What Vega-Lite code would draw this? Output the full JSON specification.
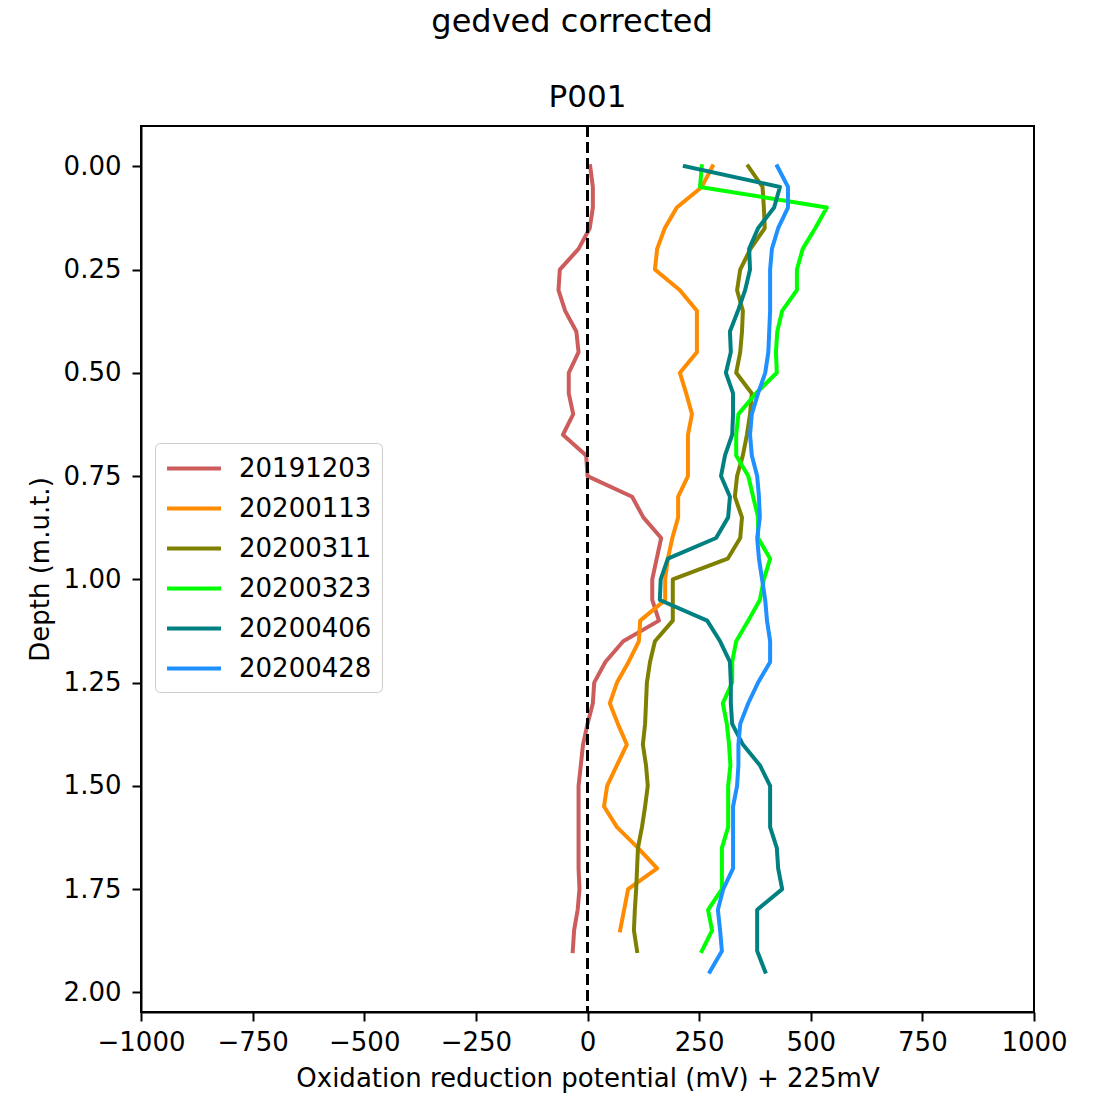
{
 "$schema": "https://vega.github.io/schema/vega-lite/v6.json",
 "background": "white",
 "padding": {"left": 26, "top": 5, "right": 10, "bottom": 10},
 "title": {"text": "gedved corrected", "fontSize": 32, "font": "DejaVu Sans", "fontWeight": "normal", "color": "black", "anchor": "middle", "offset": 42, "dx": 25},
 "config": {
  "font": "DejaVu Sans",
  "view": {"stroke": "black", "strokeWidth": 2},
  "axis": {"grid": false, "labelFontSize": 26, "titleFontSize": 26, "labelColor": "black", "titleColor": "black", "tickColor": "black", "tickSize": 9, "tickWidth": 2, "labelPadding": 8, "domainColor": "black", "domainWidth": 2, "titleFontWeight": "normal", "labelFont": "DejaVu Sans", "titleFont": "DejaVu Sans", "labelFlush": false, "labelOverlap": false},
  "legend": {"labelFontSize": 26, "labelFont": "DejaVu Sans", "labelColor": "black", "symbolType": "M-1,0H3", "symbolSize": 729, "symbolStrokeWidth": 4, "rowPadding": 11, "labelOffset": 43, "padding": 10, "strokeColor": "#cccccc", "fillColor": "white", "cornerRadius": 5}
 },
 "vconcat": [
  {
   "title": {"text": "P001", "fontSize": 31, "font": "DejaVu Sans", "fontWeight": "normal", "color": "black", "anchor": "middle", "frame": "group", "offset": 11},
   "width": 893,
   "height": 886,
   "layer": [
    {
     "data": {"values": [
{"date":"20191203","depth":0,"orp":6},{"date":"20191203","depth":0.05,"orp":12},{"date":"20191203","depth":0.1,"orp":12},{"date":"20191203","depth":0.15,"orp":5},{"date":"20191203","depth":0.2,"orp":-20},{"date":"20191203","depth":0.25,"orp":-62},{"date":"20191203","depth":0.3,"orp":-65},{"date":"20191203","depth":0.35,"orp":-50},{"date":"20191203","depth":0.4,"orp":-25},{"date":"20191203","depth":0.45,"orp":-20},{"date":"20191203","depth":0.5,"orp":-42},{"date":"20191203","depth":0.55,"orp":-42},{"date":"20191203","depth":0.6,"orp":-32},{"date":"20191203","depth":0.65,"orp":-55},{"date":"20191203","depth":0.7,"orp":-3},{"date":"20191203","depth":0.75,"orp":0},{"date":"20191203","depth":0.8,"orp":100},{"date":"20191203","depth":0.85,"orp":125},{"date":"20191203","depth":0.9,"orp":165},{"date":"20191203","depth":0.95,"orp":155},{"date":"20191203","depth":1.0,"orp":145},{"date":"20191203","depth":1.05,"orp":145},{"date":"20191203","depth":1.1,"orp":160},{"date":"20191203","depth":1.15,"orp":80},{"date":"20191203","depth":1.2,"orp":40},{"date":"20191203","depth":1.25,"orp":15},{"date":"20191203","depth":1.3,"orp":12},{"date":"20191203","depth":1.35,"orp":0},{"date":"20191203","depth":1.4,"orp":-10},{"date":"20191203","depth":1.45,"orp":-15},{"date":"20191203","depth":1.5,"orp":-20},{"date":"20191203","depth":1.55,"orp":-20},{"date":"20191203","depth":1.6,"orp":-20},{"date":"20191203","depth":1.65,"orp":-20},{"date":"20191203","depth":1.7,"orp":-20},{"date":"20191203","depth":1.75,"orp":-18},{"date":"20191203","depth":1.8,"orp":-22},{"date":"20191203","depth":1.85,"orp":-30},{"date":"20191203","depth":1.9,"orp":-33},
{"date":"20200113","depth":0,"orp":280},{"date":"20200113","depth":0.05,"orp":256},{"date":"20200113","depth":0.1,"orp":200},{"date":"20200113","depth":0.15,"orp":173},{"date":"20200113","depth":0.2,"orp":156},{"date":"20200113","depth":0.25,"orp":151},{"date":"20200113","depth":0.3,"orp":207},{"date":"20200113","depth":0.35,"orp":245},{"date":"20200113","depth":0.4,"orp":245},{"date":"20200113","depth":0.45,"orp":245},{"date":"20200113","depth":0.5,"orp":207},{"date":"20200113","depth":0.55,"orp":221},{"date":"20200113","depth":0.6,"orp":234},{"date":"20200113","depth":0.65,"orp":225},{"date":"20200113","depth":0.7,"orp":225},{"date":"20200113","depth":0.75,"orp":225},{"date":"20200113","depth":0.8,"orp":203},{"date":"20200113","depth":0.85,"orp":203},{"date":"20200113","depth":0.9,"orp":190},{"date":"20200113","depth":0.95,"orp":180},{"date":"20200113","depth":1.0,"orp":174},{"date":"20200113","depth":1.05,"orp":174},{"date":"20200113","depth":1.1,"orp":118},{"date":"20200113","depth":1.15,"orp":115},{"date":"20200113","depth":1.2,"orp":92},{"date":"20200113","depth":1.25,"orp":66},{"date":"20200113","depth":1.3,"orp":50},{"date":"20200113","depth":1.35,"orp":68},{"date":"20200113","depth":1.4,"orp":88},{"date":"20200113","depth":1.45,"orp":66},{"date":"20200113","depth":1.5,"orp":44},{"date":"20200113","depth":1.55,"orp":37},{"date":"20200113","depth":1.6,"orp":66},{"date":"20200113","depth":1.65,"orp":113},{"date":"20200113","depth":1.7,"orp":156},{"date":"20200113","depth":1.75,"orp":91},{"date":"20200113","depth":1.8,"orp":82},{"date":"20200113","depth":1.85,"orp":73},
{"date":"20200311","depth":0,"orp":360},{"date":"20200311","depth":0.05,"orp":392},{"date":"20200311","depth":0.1,"orp":395},{"date":"20200311","depth":0.15,"orp":397},{"date":"20200311","depth":0.2,"orp":365},{"date":"20200311","depth":0.25,"orp":342},{"date":"20200311","depth":0.3,"orp":335},{"date":"20200311","depth":0.35,"orp":348},{"date":"20200311","depth":0.4,"orp":346},{"date":"20200311","depth":0.45,"orp":342},{"date":"20200311","depth":0.5,"orp":333},{"date":"20200311","depth":0.55,"orp":368},{"date":"20200311","depth":0.6,"orp":364},{"date":"20200311","depth":0.65,"orp":357},{"date":"20200311","depth":0.7,"orp":348},{"date":"20200311","depth":0.75,"orp":335},{"date":"20200311","depth":0.8,"orp":330},{"date":"20200311","depth":0.85,"orp":346},{"date":"20200311","depth":0.9,"orp":342},{"date":"20200311","depth":0.95,"orp":314},{"date":"20200311","depth":1.0,"orp":191},{"date":"20200311","depth":1.05,"orp":191},{"date":"20200311","depth":1.1,"orp":191},{"date":"20200311","depth":1.15,"orp":151},{"date":"20200311","depth":1.2,"orp":140},{"date":"20200311","depth":1.25,"orp":133},{"date":"20200311","depth":1.3,"orp":131},{"date":"20200311","depth":1.35,"orp":129},{"date":"20200311","depth":1.4,"orp":124},{"date":"20200311","depth":1.45,"orp":131},{"date":"20200311","depth":1.5,"orp":135},{"date":"20200311","depth":1.55,"orp":129},{"date":"20200311","depth":1.6,"orp":122},{"date":"20200311","depth":1.65,"orp":113},{"date":"20200311","depth":1.7,"orp":111},{"date":"20200311","depth":1.75,"orp":109},{"date":"20200311","depth":1.8,"orp":106},{"date":"20200311","depth":1.85,"orp":104},{"date":"20200311","depth":1.9,"orp":111},
{"date":"20200323","depth":0,"orp":256},{"date":"20200323","depth":0.05,"orp":252},{"date":"20200323","depth":0.1,"orp":536},{"date":"20200323","depth":0.15,"orp":510},{"date":"20200323","depth":0.2,"orp":482},{"date":"20200323","depth":0.25,"orp":469},{"date":"20200323","depth":0.3,"orp":469},{"date":"20200323","depth":0.35,"orp":436},{"date":"20200323","depth":0.4,"orp":425},{"date":"20200323","depth":0.45,"orp":422},{"date":"20200323","depth":0.5,"orp":424},{"date":"20200323","depth":0.55,"orp":377},{"date":"20200323","depth":0.6,"orp":338},{"date":"20200323","depth":0.65,"orp":333},{"date":"20200323","depth":0.7,"orp":333},{"date":"20200323","depth":0.75,"orp":360},{"date":"20200323","depth":0.8,"orp":371},{"date":"20200323","depth":0.85,"orp":382},{"date":"20200323","depth":0.9,"orp":382},{"date":"20200323","depth":0.95,"orp":409},{"date":"20200323","depth":1.0,"orp":395},{"date":"20200323","depth":1.05,"orp":386},{"date":"20200323","depth":1.1,"orp":360},{"date":"20200323","depth":1.15,"orp":333},{"date":"20200323","depth":1.2,"orp":324},{"date":"20200323","depth":1.25,"orp":324},{"date":"20200323","depth":1.3,"orp":303},{"date":"20200323","depth":1.35,"orp":312},{"date":"20200323","depth":1.4,"orp":317},{"date":"20200323","depth":1.45,"orp":320},{"date":"20200323","depth":1.5,"orp":315},{"date":"20200323","depth":1.55,"orp":315},{"date":"20200323","depth":1.6,"orp":315},{"date":"20200323","depth":1.65,"orp":301},{"date":"20200323","depth":1.7,"orp":301},{"date":"20200323","depth":1.75,"orp":301},{"date":"20200323","depth":1.8,"orp":270},{"date":"20200323","depth":1.85,"orp":279},{"date":"20200323","depth":1.9,"orp":256},
{"date":"20200406","depth":0,"orp":218},{"date":"20200406","depth":0.05,"orp":431},{"date":"20200406","depth":0.1,"orp":418},{"date":"20200406","depth":0.15,"orp":382},{"date":"20200406","depth":0.2,"orp":362},{"date":"20200406","depth":0.25,"orp":364},{"date":"20200406","depth":0.3,"orp":353},{"date":"20200406","depth":0.35,"orp":337},{"date":"20200406","depth":0.4,"orp":319},{"date":"20200406","depth":0.45,"orp":321},{"date":"20200406","depth":0.5,"orp":310},{"date":"20200406","depth":0.55,"orp":326},{"date":"20200406","depth":0.6,"orp":326},{"date":"20200406","depth":0.65,"orp":324},{"date":"20200406","depth":0.7,"orp":308},{"date":"20200406","depth":0.75,"orp":299},{"date":"20200406","depth":0.8,"orp":319},{"date":"20200406","depth":0.85,"orp":315},{"date":"20200406","depth":0.9,"orp":288},{"date":"20200406","depth":0.95,"orp":180},{"date":"20200406","depth":1.0,"orp":164},{"date":"20200406","depth":1.05,"orp":162},{"date":"20200406","depth":1.1,"orp":268},{"date":"20200406","depth":1.15,"orp":297},{"date":"20200406","depth":1.2,"orp":319},{"date":"20200406","depth":1.25,"orp":321},{"date":"20200406","depth":1.3,"orp":321},{"date":"20200406","depth":1.35,"orp":324},{"date":"20200406","depth":1.4,"orp":348},{"date":"20200406","depth":1.45,"orp":386},{"date":"20200406","depth":1.5,"orp":409},{"date":"20200406","depth":1.55,"orp":409},{"date":"20200406","depth":1.6,"orp":409},{"date":"20200406","depth":1.65,"orp":424},{"date":"20200406","depth":1.7,"orp":427},{"date":"20200406","depth":1.75,"orp":436},{"date":"20200406","depth":1.8,"orp":380},{"date":"20200406","depth":1.85,"orp":380},{"date":"20200406","depth":1.9,"orp":380},{"date":"20200406","depth":1.95,"orp":398},
{"date":"20200428","depth":0,"orp":425},{"date":"20200428","depth":0.05,"orp":449},{"date":"20200428","depth":0.1,"orp":449},{"date":"20200428","depth":0.15,"orp":427},{"date":"20200428","depth":0.2,"orp":413},{"date":"20200428","depth":0.25,"orp":409},{"date":"20200428","depth":0.3,"orp":409},{"date":"20200428","depth":0.35,"orp":409},{"date":"20200428","depth":0.4,"orp":407},{"date":"20200428","depth":0.45,"orp":405},{"date":"20200428","depth":0.5,"orp":398},{"date":"20200428","depth":0.55,"orp":382},{"date":"20200428","depth":0.6,"orp":368},{"date":"20200428","depth":0.65,"orp":364},{"date":"20200428","depth":0.7,"orp":368},{"date":"20200428","depth":0.75,"orp":380},{"date":"20200428","depth":0.8,"orp":384},{"date":"20200428","depth":0.85,"orp":386},{"date":"20200428","depth":0.9,"orp":380},{"date":"20200428","depth":0.95,"orp":384},{"date":"20200428","depth":1.0,"orp":391},{"date":"20200428","depth":1.05,"orp":398},{"date":"20200428","depth":1.1,"orp":402},{"date":"20200428","depth":1.15,"orp":409},{"date":"20200428","depth":1.2,"orp":409},{"date":"20200428","depth":1.25,"orp":382},{"date":"20200428","depth":1.3,"orp":360},{"date":"20200428","depth":1.35,"orp":342},{"date":"20200428","depth":1.4,"orp":338},{"date":"20200428","depth":1.45,"orp":338},{"date":"20200428","depth":1.5,"orp":335},{"date":"20200428","depth":1.55,"orp":326},{"date":"20200428","depth":1.6,"orp":326},{"date":"20200428","depth":1.65,"orp":326},{"date":"20200428","depth":1.7,"orp":326},{"date":"20200428","depth":1.75,"orp":304},{"date":"20200428","depth":1.8,"orp":292},{"date":"20200428","depth":1.85,"orp":297},{"date":"20200428","depth":1.9,"orp":301},{"date":"20200428","depth":1.95,"orp":274}
     ]},
     "mark": {"type": "line", "strokeWidth": 4, "strokeJoin": "round", "strokeCap": "square"},
     "encoding": {
      "x": {"field": "orp", "type": "quantitative", "scale": {"domain": [-1000, 1000], "nice": false, "zero": false}, "axis": {"values": [-1000, -750, -500, -250, 0, 250, 500, 750, 1000], "format": "d", "title": "Oxidation reduction potential (mV) + 225mV", "titlePadding": 10}},
      "y": {"field": "depth", "type": "quantitative", "scale": {"domain": [-0.0975, 2.0475], "reverse": true, "nice": false, "zero": false}, "axis": {"values": [0, 0.25, 0.5, 0.75, 1.0, 1.25, 1.5, 1.75, 2.0], "format": ".2f", "title": "Depth (m.u.t.)", "titlePadding": 10, "labelPadding": 11}},
      "color": {"field": "date", "type": "nominal", "scale": {"domain": ["20191203", "20200113", "20200311", "20200323", "20200406", "20200428"], "range": ["#CD5C5C", "#FF8C00", "#808000", "#00FF00", "#008080", "#1E90FF"]}, "legend": {"title": null, "orient": "none", "legendX": 14, "legendY": 317}},
      "order": {"field": "depth", "type": "quantitative"}
     }
    },
    {
     "data": {"values": [{"zero": 0}]},
     "mark": {"type": "rule", "color": "black", "strokeWidth": 3, "strokeDash": [11, 5]},
     "encoding": {"x": {"field": "zero", "type": "quantitative"}}
    }
   ]
  }
 ]
}
